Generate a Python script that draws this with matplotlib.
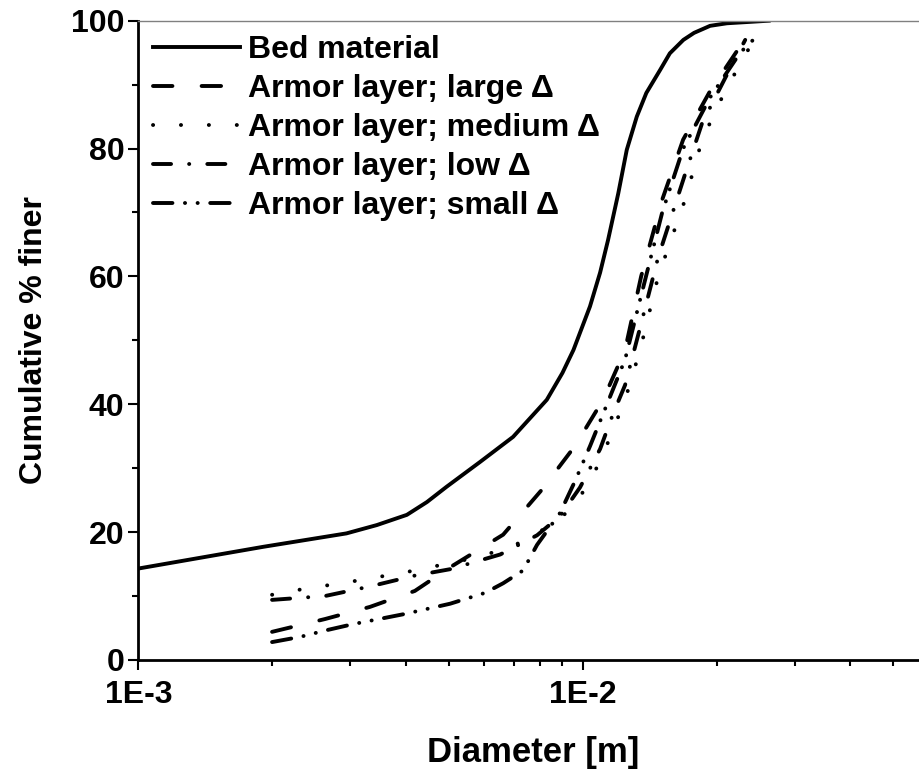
import matplotlib
matplotlib.use("Agg")
import matplotlib.pyplot as plt
from matplotlib.ticker import FixedLocator, FixedFormatter, LogLocator, NullFormatter, MultipleLocator

plt.rcParams['font.family'] = ['Liberation Sans', 'DejaVu Sans']
plt.rcParams['font.weight'] = 'bold'
plt.rcParams['lines.scale_dashes'] = False

# grain size distributions: diameter [m] vs cumulative % finer
bed_d = [1.0e-3, 1.91e-3, 2.94e-3, 3.44e-3, 4.02e-3, 4.46e-3, 4.94e-3, 5.88e-3, 6.97e-3, 8.3e-3,
         9.0e-3, 9.53e-3, 1.038e-2, 1.094e-2, 1.14e-2, 1.202e-2, 1.256e-2, 1.323e-2,
         1.39e-2, 1.493e-2, 1.57e-2, 1.684e-2, 1.78e-2, 1.934e-2, 2.11e-2, 2.62e-2]
bed_p = [14.3, 17.7, 19.8, 21.1, 22.7, 24.7, 27.1, 31.0, 34.9, 40.7,
         44.9, 48.5, 55.3, 60.6, 65.7, 73.0, 79.8, 85.0,
         88.7, 92.3, 94.9, 97.0, 98.1, 99.2, 99.6, 100.0]

large_d = [2.0e-3, 2.63e-3, 3.32e-3, 4.19e-3, 5.03e-3, 6.62e-3, 8.06e-3, 9.61e-3,
           1.111e-2, 1.245e-2, 1.353e-2, 1.509e-2, 1.682e-2, 1.934e-2, 2.26e-2, 2.44e-2]
large_p = [4.4, 6.4, 8.3, 10.8, 14.5, 19.6, 26.5, 33.5,
           40.7, 48.5, 60.0, 72.0, 81.4, 89.0, 96.0, 98.0]

medium_d = [2.0e-3, 2.31e-3, 3.04e-3, 3.98e-3, 5.24e-3, 6.03e-3, 7.34e-3, 8.89e-3, 9.86e-3,
            1.094e-2, 1.17e-2, 1.245e-2, 1.346e-2, 1.478e-2, 1.699e-2, 1.856e-2, 2.09e-2,
            2.38e-2, 2.55e-2]
medium_p = [10.2, 11.0, 12.3, 13.7, 15.4, 16.4, 18.5, 22.0, 25.5,
            31.0, 36.0, 40.7, 48.5, 60.0, 72.0, 81.4, 89.0,
            96.0, 98.6]

low_d = [2.0e-3, 2.63e-3, 3.32e-3, 4.19e-3, 5.03e-3, 6.52e-3, 7.89e-3, 8.89e-3, 9.86e-3,
         1.094e-2, 1.17e-2, 1.245e-2, 1.346e-2, 1.478e-2, 1.699e-2, 1.856e-2, 2.09e-2, 2.32e-2]
low_p = [9.4, 10.0, 11.5, 13.2, 14.2, 16.5, 19.5, 22.5, 27.0,
         33.0, 38.5, 43.0, 52.0, 63.0, 76.0, 84.0, 91.0, 97.0]

small_d = [2.0e-3, 2.31e-3, 2.63e-3, 3.04e-3, 3.98e-3, 5.03e-3, 6.03e-3, 6.62e-3, 7.34e-3,
           7.89e-3, 8.89e-3, 9.61e-3, 1.039e-2, 1.111e-2, 1.245e-2, 1.353e-2, 1.509e-2,
           1.682e-2, 1.934e-2, 2.26e-2, 2.5e-2]
small_p = [2.8, 3.6, 4.6, 5.6, 7.2, 8.8, 10.5, 12.0, 14.0,
           18.0, 23.0, 28.0, 33.5, 38.5, 47.0, 57.0, 70.0,
           80.0, 88.0, 95.0, 98.0]

labels = ['Bed material', 'Armor layer; large \u0394', 'Armor layer; medium \u0394',
          'Armor layer; low \u0394', 'Armor layer; small \u0394']

fig = plt.figure(figsize=(9.2, 7.7), dpi=100)
ax = fig.add_axes([0.1503, 0.1429, 0.8591, 0.8302])

lw = 2.8
ax.plot(bed_d, bed_p, color='black', lw=lw, label=labels[0])
ax.plot(large_d, large_p, color='black', lw=lw, dashes=(14, 21),
        dash_capstyle='round', label=labels[1])
ax.plot(medium_d, medium_p, color='black', lw=lw, dashes=(0.1, 20),
        dash_capstyle='round', label=labels[2])
ax.plot(low_d, low_p, color='black', lw=lw, dashes=(13, 13, 0.1, 13),
        dash_capstyle='round', label=labels[3])
ax.plot(small_d, small_p, color='black', lw=lw, dashes=(14, 9, 0.1, 9, 0.1, 9),
        dash_capstyle='round', label=labels[4])

ax.set_xscale('log')
ax.set_xlim(1e-3, 6e-2)
ax.set_ylim(0, 100)

ax.xaxis.set_major_locator(FixedLocator([1e-3, 1e-2]))
ax.xaxis.set_major_formatter(FixedFormatter(['1E-3', '1E-2']))
ax.xaxis.set_minor_locator(LogLocator(base=10, subs=[2, 3, 4, 5, 6, 7, 8, 9]))
ax.xaxis.set_minor_formatter(NullFormatter())
ax.yaxis.set_major_locator(MultipleLocator(20))
ax.yaxis.set_minor_locator(MultipleLocator(10))

ax.tick_params(which='major', direction='out', length=7, width=1.5, labelsize=23, pad=3)
ax.tick_params(which='minor', direction='out', length=4.5, width=1.5)
ax.tick_params(axis='x', which='major', pad=7.5)

for side in ['left', 'bottom']:
    ax.spines[side].set_linewidth(2)
ax.spines['top'].set_linewidth(1)
ax.spines['top'].set_color('gray')
ax.spines['right'].set_visible(False)

ax.set_xlabel('Diameter [m]', fontsize=25, fontweight='bold', labelpad=19)
ax.set_ylabel('Cumulative % finer', fontsize=23, fontweight='bold', labelpad=16)

ax.legend(loc='upper left', frameon=False, fontsize=23, handlelength=2.75,
          handletextpad=0.25, labelspacing=0.28, borderaxespad=0.05,
          bbox_to_anchor=(0.0, 1.0))

fig.savefig('out.png', dpi=100)
